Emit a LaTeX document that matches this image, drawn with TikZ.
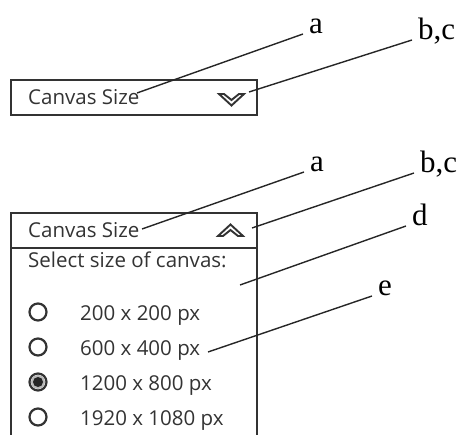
\documentclass[tikz,border=0pt]{standalone}
\usepackage{fontspec}
\setmainfont{Liberation Serif}
\newfontfamily\uifont{Open Sans}
\definecolor{uigray}{HTML}{333333}

\begin{document}
\begin{tikzpicture}[x=1pt,y=-1pt,
	frame/.style={draw=uigray,line width=1.8pt},
	uitext/.style={anchor=base west,inner sep=0pt,text=uigray,font=\uifont\fontsize{20.5}{24}\selectfont},
	lbl/.style={anchor=base west,inner xsep=6pt,inner ysep=0pt,font=\fontsize{31}{36}\selectfont},
	leader/.style={line width=1.4pt,black!85},
	chev/.style={draw=uigray,line width=1.9pt,line join=miter},
	radio/.style={draw=uigray,line width=2.2pt}]
	\useasboundingbox (0,0) rectangle (476,435);
	% closed menu
	\draw[frame] (11,80) rectangle (257,115);
	\node[uitext] (size1) at (28,105) {Canvas Size};
	\draw[chev] (219,94) -- (224,94) -- (231.5,100) -- (239,94) -- (244,94) -- (231.5,105.5) -- cycle;
	\coordinate (tipa1) at (137,93);
	\coordinate (tipb1) at (249,92);
	\node[lbl] (la1) at (303,34) {a};
	\node[lbl] (lb1) at (412,40) {b,c};
	\draw[leader] (tipa1) -- (la1.base west);
	\draw[leader] (tipb1) -- (lb1.base west);
	% open menu
	\draw[frame] (11,436) -- (11,213) -- (257,213) -- (257,436);
	\draw[frame] (11,248) -- (257,248);
	\node[uitext] (size2) at (28,238) {Canvas Size};
	\draw[chev] (218,236) -- (223,236) -- (230.5,230) -- (238,236) -- (243,236) -- (230.5,224.5) -- cycle;
	\node[uitext] (ask) at (28,268) {Select size of canvas:};
	\foreach \txt [count=\i] in {200 x 200 px, 600 x 400 px, 1200 x 800 px, 1920 x 1080 px} {
		\draw[radio] (38,277+35*\i) circle (8.5pt);
		\node[uitext] (opt\i) at (80,285+35*\i) {\txt};
	}
	\fill[gray!55] (38,382) circle (7pt);
	\fill[black!85] (38,382) circle (5pt);
	\coordinate (tipa2) at (142,229);
	\coordinate (tipb2) at (252,228);
	\coordinate (tipd) at (240,285);
	\coordinate (tipe) at (208,352);
	\node[lbl] (la2) at (304,172) {a};
	\node[lbl] (lb2) at (414,173) {b,c};
	\node[lbl] (ld) at (406,226) {d};
	\node[lbl] (le) at (372,296) {e};
	\draw[leader] (tipa2) -- (la2.base west);
	\draw[leader] (tipb2) -- (lb2.base west);
	\draw[leader] (tipd) -- (ld.base west);
	\draw[leader] (tipe) -- (le.base west);
\end{tikzpicture}
\end{document}
